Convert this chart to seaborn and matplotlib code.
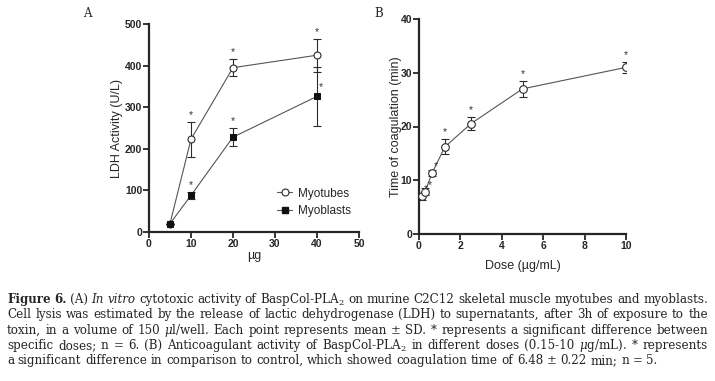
import matplotlib
matplotlib.use("Agg")
import matplotlib.pyplot as plt
from matplotlib.lines import Line2D
import seaborn as sns

# panel A: LDH release (mean, SD)
dose_a = [5, 10, 20, 40]
myotubes_mean = [20, 223, 395, 425]
myotubes_sd = [0, 42, 20, 40]
myoblasts_mean = [20, 88, 228, 326]
myoblasts_sd = [0, 8, 22, 70]

# panel B: coagulation time (mean, SD)
dose_b = [0.15, 0.3, 0.625, 1.25, 2.5, 5, 10]
coag_mean = [7.0, 7.9, 11.3, 16.2, 20.5, 27.0, 31.0]
coag_sd = [0.6, 0.6, 0.6, 1.4, 1.2, 1.5, 1.0]

ticks_a_x = [0, 10, 20, 30, 40, 50]
ticks_a_y = [0, 100, 200, 300, 400, 500]
ticks_b_x = [0, 2, 4, 6, 8, 10]
ticks_b_y = [0, 10, 20, 30, 40]

caption_lines = [
    [("Figure 6.", "bold"), ("(A)", "normal"), ("In vitro", "italic"),
     ("cytotoxic activity of BaspCol-PLA$_2$ on murine C2C12 skeletal muscle myotubes and myoblasts.", "normal")],
    [("Cell lysis was estimated by the release of lactic dehydrogenase (LDH) to supernatants, after 3h of exposure to the", "normal")],
    [("toxin, in a volume of 150 $\\mu$l/well. Each point represents mean \u00b1 SD. * represents a significant difference between", "normal")],
    [("specific doses; n = 6. (B) Anticoagulant activity of BaspCol-PLA$_2$ in different doses (0.15-10 $\\mu$g/mL). * represents", "normal")],
    [("a significant difference in comparison to control, which showed coagulation time of 6.48 \u00b1 0.22 min; n = 5.", "normal")],
]

sns.set_style("ticks")
plt.rcParams["font.family"] = ["Liberation Sans", "DejaVu Sans"]
plt.rcParams["mathtext.fontset"] = "dejavuserif"
SERIF = "DejaVu Serif"
LINE = "#555555"
EDGE = "#2b2b2b"

W, H = 715, 381
fig = plt.figure(figsize=(W / 100, H / 100), dpi=100)


def px_axes(left, right, top, bottom):
    return fig.add_axes([left / W, 1 - bottom / H, (right - left) / W, (bottom - top) / H])


def style_axes(ax, xt, yt):
    sns.despine(ax=ax)
    for s in ["left", "bottom"]:
        ax.spines[s].set_linewidth(1.6)
    ax.set_xticks(xt)
    ax.set_yticks(yt)
    ax.tick_params(direction="out", length=4, width=1.3, pad=0.8, labelsize=7.5)
    for lab in ax.get_xticklabels() + ax.get_yticklabels():
        lab.set_fontweight("bold")


def stars(ax, xs, ys, offsets):
    for x, y, (dx, dy) in zip(xs, ys, offsets):
        ax.annotate("*", (x, y), xytext=(dx, dy), textcoords="offset points",
                    ha="center", va="center", fontsize=7.5, color="#333333")


# ---- panel A
ax = px_axes(149, 359, 24, 232)
ax.errorbar(dose_a, myotubes_mean, yerr=myotubes_sd, fmt="none", ecolor=EDGE,
            elinewidth=0.8, capsize=2.6, capthick=0.8, zorder=1)
ax.errorbar(dose_a, myoblasts_mean, yerr=myoblasts_sd, fmt="none", ecolor=EDGE,
            elinewidth=0.8, capsize=2.6, capthick=0.8, zorder=1)
sns.lineplot(x=dose_a, y=myotubes_mean, ax=ax, color=LINE, linewidth=0.8,
             marker="o", markersize=5, markerfacecolor="white",
             markeredgecolor=EDGE, markeredgewidth=0.8, zorder=3)
sns.lineplot(x=dose_a, y=myoblasts_mean, ax=ax, color=LINE, linewidth=0.8,
             marker="s", markersize=5, markerfacecolor="#111111",
             markeredgecolor="#111111", zorder=3)
ax.set_xlim(0, 50)
ax.set_ylim(0, 500)
style_axes(ax, ticks_a_x, ticks_a_y)
ax.set_ylabel("LDH Activity (U/L)", fontsize=9, va="center")
ax.yaxis.set_label_coords((117 - 149) / 210, 0.5)
ax.set_xlabel("\u00b5g", fontsize=9, va="center")
ax.xaxis.set_label_coords(0.5, (232 - 256) / 208)

tube_top = [m + s for m, s in zip(myotubes_mean, myotubes_sd)]
blast_top = [m + s for m, s in zip(myoblasts_mean, myoblasts_sd)]
stars(ax, dose_a[1:], tube_top[1:], [(0, 5)] * 3)
stars(ax, dose_a[1:3], blast_top[1:3], [(0, 5)] * 2)
stars(ax, dose_a[3:], myoblasts_mean[3:], [(3, 7)])

handles = [
    Line2D([], [], color=LINE, lw=0.8, marker="o", markersize=5,
           markerfacecolor="white", markeredgecolor=EDGE, markeredgewidth=0.8),
    Line2D([], [], color=LINE, lw=0.8, marker="s", markersize=5,
           markerfacecolor="#111111", markeredgecolor="#111111"),
]
ax.legend(handles, ["Myotubes", "Myoblasts"], loc="center left",
          bbox_to_anchor=(277 / W, 1 - 202.5 / H), bbox_transform=fig.transFigure,
          frameon=False, fontsize=8.5, handlelength=1.3, handletextpad=0.5,
          labelspacing=0.5, borderpad=0, borderaxespad=0)

# ---- panel B
bx = px_axes(419, 626, 19, 234)
bx.errorbar(dose_b, coag_mean, yerr=coag_sd, fmt="none", ecolor=EDGE,
            elinewidth=0.8, capsize=2.6, capthick=0.8, zorder=1)
sns.lineplot(x=dose_b, y=coag_mean, ax=bx, color=LINE, linewidth=0.8,
             marker="o", markersize=5.5, markerfacecolor="white",
             markeredgecolor=EDGE, markeredgewidth=0.8, zorder=3)
bx.set_xlim(0, 10)
bx.set_ylim(0, 40)
style_axes(bx, ticks_b_x, ticks_b_y)
bx.set_ylabel("Time of coagulation (min)", fontsize=9, va="center")
bx.yaxis.set_label_coords((396 - 419) / 207, 0.5)
bx.set_xlabel("Dose (\u00b5g/mL)", fontsize=9, va="center")
bx.xaxis.set_label_coords(0.5, (234 - 266) / 215)

coag_top = [m + s for m, s in zip(coag_mean, coag_sd)]
stars(bx, dose_b[:3], coag_mean[:3], [(3, 5)] * 3)
stars(bx, dose_b[3:], coag_top[3:], [(0, 5)] * 4)

fig.text(87 / W, 1 - 17 / H, "A", family=SERIF, fontsize=8.5, ha="center", va="baseline")
fig.text(379 / W, 1 - 17 / H, "B", family=SERIF, fontsize=8.5, ha="center", va="baseline")

# ---- caption, justified word by word
renderer = fig.canvas.get_renderer()
STYLES = {"normal": {}, "bold": {"weight": "bold"}, "italic": {"style": "italic"}}


def measure(word, style, fs):
    t = fig.text(0, 0, word, family=SERIF, fontsize=fs, **STYLES[style])
    w = t.get_window_extent(renderer).width
    t.remove()
    return w


tokens = [[(w, st) for txt, st in line for w in txt.split(" ")] for line in caption_lines]
x0, x1 = 7, 708
fs0 = 8
space0 = measure("a a", "normal", fs0) - measure("aa", "normal", fs0)
natural = [sum(measure(w, st, fs0) for w, st in line) + space0 * (len(line) - 1)
           for line in tokens]
fs = fs0 * (x1 - x0) / max(natural[:-1])
space = space0 * fs / fs0

y = 303
for i, line in enumerate(tokens):
    widths = [measure(w, st, fs) for w, st in line]
    if i < len(tokens) - 1:
        gap = (x1 - x0 - sum(widths)) / (len(line) - 1)
    else:
        gap = space
    x = x0
    for (w, st), wd in zip(line, widths):
        fig.text(x / W, 1 - y / H, w, family=SERIF, fontsize=fs,
                 ha="left", va="baseline", **STYLES[st])
        x += wd + gap
    y += 15.3

fig.savefig("out.png", dpi=100)
